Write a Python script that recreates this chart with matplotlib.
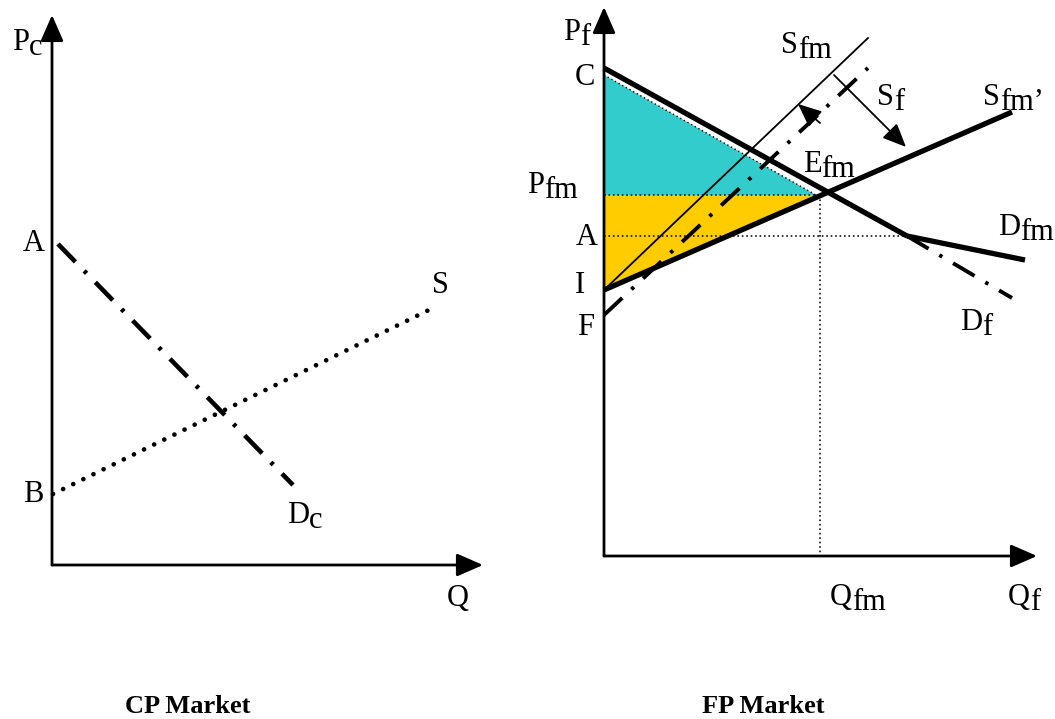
import matplotlib
matplotlib.use("Agg")
import matplotlib.pyplot as plt
from matplotlib.patches import FancyArrowPatch, Polygon

plt.rcParams['lines.scale_dashes'] = False
FONT = ['Liberation Serif', 'DejaVu Serif']

# ---------------- data (diagram coordinates, pixel space of the 1055x719 canvas) -------------
# Left panel: CP market
cp_axis_origin = [52, 565]
cp_axis_ytop = 15
cp_axis_xend = 483
cp_demand_x = [58, 293]          # D_c from A downward
cp_demand_y = [244, 485]
cp_supply_x = [53, 435]          # S from B upward
cp_supply_y = [494, 307]

# Right panel: FP market
fp_axis_origin = [604, 556]
fp_axis_ytop = 7
fp_axis_xend = 1037
fp_demand_x = [604, 907]         # C -> kink
fp_demand_y = [68, 236]
fp_dfm_x = [907, 1025]           # D_fm after kink
fp_dfm_y = [236, 260]
fp_df_x = [907, 1012]            # D_f dash-dot continuation
fp_df_y = [236, 298]
fp_sfm2_x = [604, 1012]          # S_fm' thick from I
fp_sfm2_y = [290, 112]
fp_sfm_x = [604, 868]            # S_fm thin from I
fp_sfm_y = [290, 38]
fp_sf_x = [604, 868]             # S_f dash-dot from F
fp_sf_y = [315, 68]
eq_x, eq_y = 820, 195            # E_fm
a_y = 236                        # price A
cyan_x = [604, 604, 816]
cyan_y = [75, 195, 195]
yellow_x = [604, 816, 604]
yellow_y = [195, 195, 290]
arrow1 = [(820, 123), (798, 104)]
arrow2 = [(834, 75), (906, 147)]

# labels: (main, subscript, left x, baseline y)
labels = [
    ("P", "c", 12, 50),
    ("A", "", 23, 251),
    ("B", "", 23, 502),
    ("S", "", 432, 293),
    ("D", "c", 287, 523),
    ("Q", "", 447, 606),
    ("P", "f", 563, 40),
    ("C", "", 575, 85),
    ("P", "fm", 527, 193),
    ("A", "", 576, 245),
    ("I", "", 575, 293),
    ("F", "", 577, 335),
    ("S", "fm", 781, 53),
    ("S", "f", 877, 105),
    ("S", "fm\u2019", 983, 105),
    ("E", "fm", 803, 172),
    ("D", "fm", 998, 235),
    ("D", "f", 960, 330),
    ("Q", "fm", 830, 605),
    ("Q", "f", 1008, 605),
]
titles = [("CP Market", 188, 713), ("FP Market", 763, 713)]

# ---------------- drawing -------------
fig = plt.figure(figsize=(10.55, 7.19), dpi=100)
ax = fig.add_axes([0, 0, 1, 1])
ax.set_xlim(0, 1055)
ax.set_ylim(719, 0)
ax.axis('off')


def axis_arrow(p0, p1):
    ax.add_patch(FancyArrowPatch(p0, p1, arrowstyle='-|>,head_length=0.8,head_width=0.35',
                                 mutation_scale=20, lw=2, color='black',
                                 shrinkA=0, shrinkB=0, zorder=5))


# axes
ox, oy = cp_axis_origin
axis_arrow((ox, oy), (ox, cp_axis_ytop))
axis_arrow((ox, oy), (cp_axis_xend, oy))
fx, fy = fp_axis_origin
axis_arrow((fx, fy), (fx, fp_axis_ytop))
axis_arrow((fx, fy), (fp_axis_xend, fy))

dashdot = (0, (18, 9, 2.5, 9))

# left panel
ax.plot(cp_demand_x, cp_demand_y, color='black', lw=3.3, linestyle=dashdot,
        dash_capstyle='butt')
ax.plot(cp_supply_x, cp_supply_y, color='black', lw=3.4, linestyle=(0, (0.01, 8.1)),
        dash_capstyle='round')

# right panel: shaded areas
ax.add_patch(Polygon(list(zip(cyan_x, cyan_y)), closed=True, facecolor='#33CCCC',
                     edgecolor='none', zorder=1))
ax.add_patch(Polygon(list(zip(yellow_x, yellow_y)), closed=True, facecolor='#FFCC00',
                     edgecolor='none', zorder=1))
# dotted edge of cyan region
ax.plot([cyan_x[0], cyan_x[2]], [cyan_y[0], cyan_y[2]],
        color='black', lw=1, linestyle=(0, (1, 2)), zorder=2)

# dotted guide lines
ax.plot([fx, eq_x], [eq_y, eq_y], color='black', lw=1.1, linestyle=(0, (1.2, 2)), zorder=2)
ax.plot([fx, fp_demand_x[1]], [a_y, a_y], color='black', lw=1.1, linestyle=(0, (1.2, 2)),
        zorder=2)
ax.plot([eq_x, eq_x], [eq_y, fy], color='black', lw=1.1, linestyle=(0, (1.2, 2)), zorder=2)

# curves
ax.plot(fp_sfm_x, fp_sfm_y, color='black', lw=1.3, zorder=3)
ax.plot(fp_sf_x, fp_sf_y, color='black', lw=2.8, linestyle=dashdot, dash_capstyle='butt',
        zorder=3)
ax.plot(fp_df_x, fp_df_y, color='black', lw=2.8, linestyle=dashdot, dash_capstyle='butt',
        zorder=3)
ax.plot(fp_demand_x, fp_demand_y, color='black', lw=3.8, zorder=4, solid_capstyle='butt')
ax.plot(fp_dfm_x, fp_dfm_y, color='black', lw=3.8, zorder=4, solid_capstyle='butt')
ax.plot(fp_sfm2_x, fp_sfm2_y, color='black', lw=3.8, zorder=4, solid_capstyle='butt')

# shift arrows
for (p0, p1) in (arrow1, arrow2):
    ax.add_patch(FancyArrowPatch(p0, p1, arrowstyle='-|>,head_length=0.8,head_width=0.35',
                                 mutation_scale=18, lw=1.3, color='black',
                                 shrinkA=0, shrinkB=0, zorder=5))

# labels (subscripts: same size, dropped to the main text's descent line)
for main, sub, xm, ym in labels:
    t = ax.text(xm, ym, main, family=FONT, fontsize=22, ha='left', va='baseline')
    if sub:
        ax.annotate(sub, xy=(1, 0), xycoords=t, xytext=(0, 1.2),
                    textcoords='offset points', family=FONT, fontsize=22,
                    ha='left', va='baseline')

for t, x, y in titles:
    ax.text(x, y, t, family=FONT, fontsize=19, fontweight='bold', ha='center',
            va='baseline')

fig.savefig('out.png', dpi=100)
